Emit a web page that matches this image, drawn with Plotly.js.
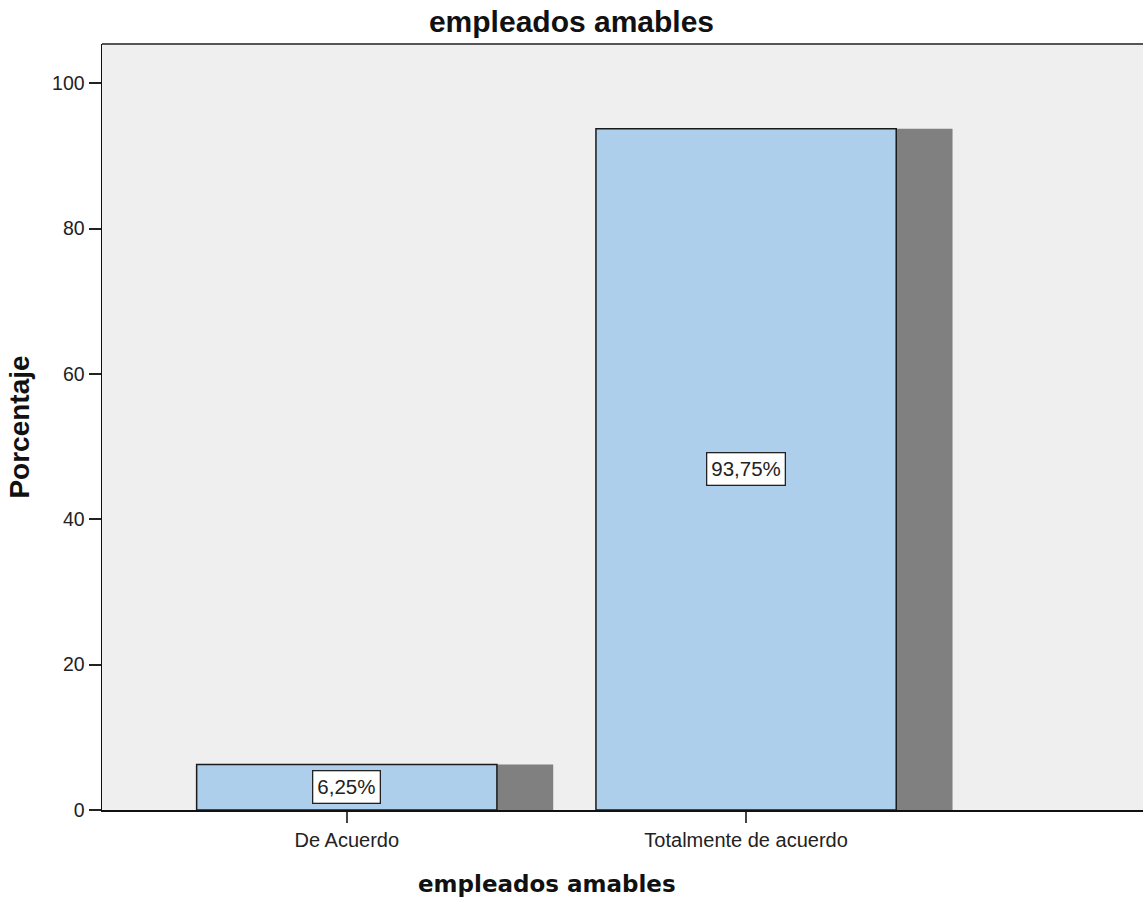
<!DOCTYPE html>
<html>
<head>
<meta charset="utf-8">
<script src="https://cdn.plot.ly/plotly-3.0.1.min.js"></script>
<style>
  html, body { margin: 0; padding: 0; background: #ffffff; overflow: hidden; }
  #chart { width: 1143px; height: 899px; }
</style>
</head>
<body>
<div id="chart"></div>
<script>
// Response categories and their percentages
const categories = ['De Acuerdo', 'Totalmente de acuerdo'];
const percentages = [6.25, 93.75];
const yTickValues = [0, 20, 40, 60, 80, 100];
const chartTitle = 'empleados amables';
const xTitle = 'empleados amables';
const yTitle = 'Porcentaje';

const barWidth = 0.752;
const shadowShift = 0.141;

// Percent label in Spanish number format, e.g. 93,75%
function pctLabel(v) {
  return v.toFixed(2).replace('.', ',') + '%';
}

// Drop shadow drawn behind each bar, shifted to the right
const shadow = {
  type: 'bar',
  x: categories,
  y: percentages,
  width: barWidth,
  offset: -barWidth / 2 + shadowShift,
  marker: { color: '#808080', line: { width: 0 } },
  hoverinfo: 'skip'
};

const bars = {
  type: 'bar',
  x: categories,
  y: percentages,
  width: barWidth,
  offset: -barWidth / 2,
  marker: { color: '#aecfec', line: { color: '#1a1a1a', width: 1.5 } },
  hoverinfo: 'skip'
};

// Boxed value labels centred in each bar
const valueLabels = categories.map((c, i) => ({
  x: c,
  y: percentages[i] / 2,
  xref: 'x',
  yref: 'y',
  text: pctLabel(percentages[i]),
  showarrow: false,
  xanchor: 'center',
  yanchor: 'middle',
  bgcolor: '#ffffff',
  bordercolor: '#222222',
  borderwidth: 1.3,
  borderpad: 4,
  font: { family: 'Liberation Sans, Arial, sans-serif', size: 20.5, color: '#222222' }
}));

const layout = {
  width: 1143,
  height: 899,
  margin: { l: 102, r: 0, t: 44, b: 89, pad: 0 },
  paper_bgcolor: '#ffffff',
  plot_bgcolor: '#efefef',
  showlegend: false,
  barmode: 'overlay',
  title: {
    text: chartTitle,
    x: 0.5,
    xref: 'container',
    xanchor: 'center',
    y: 0.976,
    yref: 'container',
    yanchor: 'middle',
    font: { family: 'Liberation Sans, Arial, sans-serif', size: 30, color: '#111111', weight: 'bold' }
  },
  xaxis: {
    type: 'category',
    range: [-0.613, 1.994],
    showgrid: false,
    zeroline: false,
    showline: true,
    linecolor: '#111111',
    linewidth: 1.5,
    ticks: 'outside',
    ticklen: 11,
    tickwidth: 2,
    tickcolor: '#444444',
    tickfont: { family: 'Liberation Sans, Arial, sans-serif', size: 20, color: '#222222' },
    fixedrange: true
  },
  yaxis: {
    range: [0, 105.4],
    tickvals: yTickValues,
    showgrid: false,
    zeroline: false,
    showline: true,
    linecolor: '#111111',
    linewidth: 1.5,
    ticks: 'outside',
    ticklen: 12,
    tickwidth: 2,
    tickcolor: '#222222',
    tickfont: { family: 'Liberation Sans, Arial, sans-serif', size: 19.5, color: '#222222' },
    title: {
      text: yTitle,
      standoff: 14,
      font: { family: 'Liberation Sans, Arial, sans-serif', size: 28, color: '#111111', weight: 'bold' }
    },
    automargin: false,
    fixedrange: true
  },
  shapes: [
    // top frame line of the plot area
    { type: 'line', xref: 'paper', yref: 'paper', x0: 0, x1: 1, y0: 1, y1: 1,
      line: { color: '#555555', width: 2 } }
  ],
  annotations: valueLabels.concat([
    {
      text: xTitle,
      xref: 'paper', yref: 'paper',
      x: 0.4275, y: -0.0966,
      xanchor: 'center', yanchor: 'middle',
      showarrow: false,
      font: { family: 'DejaVu Sans, Verdana, sans-serif', size: 23, color: '#111111', weight: 'bold' }
    }
  ])
};

Plotly.newPlot('chart', [shadow, bars], layout, { displayModeBar: false, staticPlot: true });
</script>
</body>
</html>
